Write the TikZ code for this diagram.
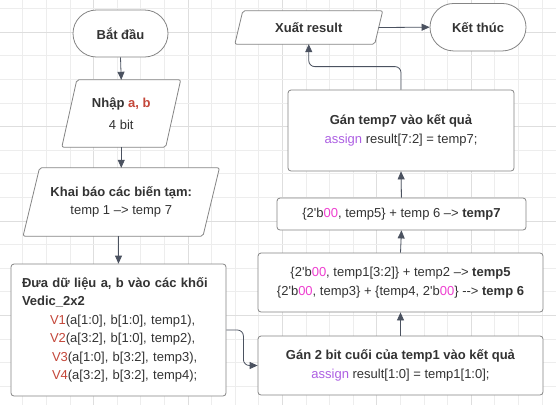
\documentclass[tikz,border=0pt]{standalone}
\usepackage{fontspec}
\newfontfamily\uifont{Liberation Sans}
\usetikzlibrary{arrows.meta,calc,shapes.misc}
\definecolor{txt}{HTML}{333333}
\definecolor{edge}{HTML}{858585}
\definecolor{conncol}{HTML}{4B5260}
\definecolor{redv}{HTML}{C4473A}
\definecolor{purp}{HTML}{AD5FE3}
\definecolor{magv}{HTML}{EE3FD0}
\definecolor{gridminor}{HTML}{EDEDED}
\definecolor{gridmajor}{HTML}{DEDEDE}
\pgfdeclarelayer{gridlayer}
\pgfdeclarelayer{background}
\pgfsetlayers{gridlayer,background,main}
\newcommand\paraout[2]{%
  \begin{pgfonlayer}{background}
  \draw[shapeline,fill=white,rounded corners=2pt]
    ($(#1.south west)+(-#2,0)$) -- ($(#1.north west)+(#2,0)$) --
    ($(#1.north east)+(#2,0)$) -- ($(#1.south east)+(-#2,0)$) -- cycle;
  \end{pgfonlayer}}
\begin{document}
\begin{tikzpicture}[x=1pt,y=-1pt,
  every node/.style={font=\uifont\fontsize{13}{18.5}\selectfont, text=txt},
  shapeline/.style={draw=edge, line width=0.8pt},
  term/.style={shapeline, fill=white, rounded rectangle, inner sep=0pt},
  box/.style={shapeline, fill=white, rounded corners=3pt, inner sep=0pt, align=center},
  parabody/.style={inner sep=0pt, align=center},
  conn/.style={draw=conncol, line width=0.8pt, -{Triangle[length=8pt,width=7pt]}},
  gridline/.style={draw=gridminor, line width=0.8pt},
  gridmaj/.style={draw=gridmajor, line width=0.8pt}]
\useasboundingbox (0,0) rectangle (556,405);
\begin{pgfonlayer}{gridlayer}
  \fill[white] (0,0) rectangle (556,405);
  \foreach \i in {0,...,23} {
    \pgfmathtruncatemacro\m{mod(\i,4)}
    \ifnum\m=3 \draw[gridmaj] (22.7+23.6*\i,0) -- ++(0,405);
    \else \draw[gridline] (22.7+23.6*\i,0) -- ++(0,405); \fi
  }
  \foreach \j in {0,...,17} {
    \pgfmathtruncatemacro\m{mod(\j,4)}
    \ifnum\m=1 \draw[gridmaj] (0,8.5+23.6*\j) -- ++(556,0);
    \else \draw[gridline] (0,8.5+23.6*\j) -- ++(556,0); \fi
  }
\end{pgfonlayer}

% left column
\node[term, minimum width=95, minimum height=47] (start) at (120.5,33.5) {\textbf{Bắt đầu}};
\node[parabody, minimum width=103.5, minimum height=67] (input) at (121.25,113.5)
  {\textbf{Nhập \textcolor{redv}{a, b}}\\[4pt]4 bit};
\paraout{input}{7.5}
\node[parabody, minimum width=179.5, minimum height=68] (decl) at (121.25,202)
  {\textbf{Khai báo các biến tạm:}\\temp 1 –> temp 7};
\paraout{decl}{8.25}
\node[box, minimum width=215, minimum height=132, align=left, text width=193] (feed) at (118.5,330)
  {\textbf{Đưa dữ liệu a, b vào các khối}\\
   \textbf{Vedic\_2x2}\\
   \hspace*{28pt}\textcolor{redv}{V1}(a[1:0], b[1:0], temp1),\\
   \hspace*{28pt}\textcolor{redv}{V2}(a[3:2], b[1:0], temp2),\\
   \hspace*{30pt}\textcolor{redv}{V3}(a[1:0], b[3:2], temp3),\\
   \hspace*{30pt}\textcolor{redv}{V4}(a[3:2], b[3:2], temp4);};

% right column
\node[box, minimum width=285, minimum height=59] (low) at (400.5,365.5)
  {\textbf{Gán 2 bit cuối của temp1 vào kết quả}\\
   \textcolor{purp}{assign} result[1:0] = temp1[1:0];};
\node[box, minimum width=285, minimum height=59] (sums) at (400.5,282.5)
  {\{2'b\textcolor{magv}{00}, temp1[3:2]\} + temp2 –> \textbf{temp5}\\
   \{2'b\textcolor{magv}{00}, temp3\} + \{temp4, 2'b\textcolor{magv}{00}\} -{}-> \textbf{temp 6}};
\node[box, minimum width=249, minimum height=32] (sum7) at (401.5,214)
  {\{2'b\textcolor{magv}{00}, temp5\} + temp 6 –> \textbf{temp7}};
\node[box, minimum width=226, minimum height=81] (high) at (401,130.5)
  {\textbf{Gán temp7 vào kết quả}\\
   \textcolor{purp}{assign} result[7:2] = temp7;};
\node[parabody, minimum width=139.5, minimum height=33] (out) at (308.75,27.5)
  {\textbf{Xuất result}};
\paraout{out}{4}
\node[term, minimum width=96, minimum height=47.5] (stop) at (478,27.2) {\textbf{Kết thúc}};

% connectors
\draw[conn] (start.south) -- (input.north);
\draw[conn] (input.south) -- (decl.north);
\draw[conn] (feed.north |- decl.south) -- (feed.north);
\draw[conn, rounded corners=6pt] (feed.east) -- ++(17,0) |- (low.west);
\draw[conn] (low.north) -- (sums.south);
\draw[conn] (sums.north) -- (sum7.south);
\draw[conn] (sum7.north) -- (high.south);
\draw[conn, rounded corners=6pt] (high.north) -- ++(0,-23) -| (out.south);
\draw[conn] (out.east) -- (stop.west);
\end{tikzpicture}
\end{document}
